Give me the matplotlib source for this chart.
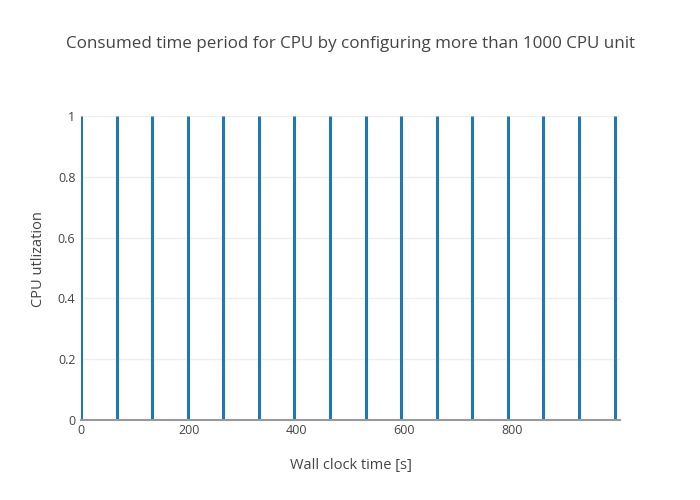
import matplotlib
matplotlib.use("Agg")
import matplotlib.pyplot as plt

# Data
spike_times = [0, 66, 132, 198, 264, 330, 396, 462, 528, 594, 660, 726, 792, 858, 924, 990]
cpu_util = [1] * len(spike_times)
x_ticks = [0, 200, 400, 600, 800]
y_ticks = [0, 0.2, 0.4, 0.6, 0.8, 1]
y_tick_labels = ["0", "0.2", "0.4", "0.6", "0.8", "1"]

plt.rcParams['font.family'] = ['Open Sans', 'DejaVu Sans']

fig = plt.figure(figsize=(7, 5), dpi=100)
ax = fig.add_axes([81/700, 80/500, (620-81)/700, (420-116)/500])

ax.vlines(spike_times, 0, cpu_util, color='#1f77b4', linewidth=2.2, zorder=3)

ax.set_xlim(0, 1000)
ax.set_ylim(0, 1)
ax.set_xticks(x_ticks)
ax.set_yticks(y_ticks)
ax.set_yticklabels(y_tick_labels)
ax.tick_params(axis='both', length=0, labelsize=9, colors='#444444', pad=4)
ax.tick_params(axis='x', pad=3)
ax.grid(axis='y', color='#eeeeee', linewidth=1, zorder=0)
for s in ['top', 'right', 'left']:
    ax.spines[s].set_visible(False)
ax.spines['bottom'].set_color('#999999')
ax.spines['bottom'].set_linewidth(1.5)
ax.spines['bottom'].set_zorder(4)

ax.set_xlabel('Wall clock time [s]', fontsize=10.5, color='#444444', labelpad=15)
ax.set_ylabel('CPU utlization', fontsize=10.5, color='#444444', labelpad=4)
ax.yaxis.set_label_coords(-(81-46)/539, (420-259)/304)

fig.text(350/700, 1 - 44/500, 'Consumed time period for CPU by configuring more than 1000 CPU unit',
         ha='center', va='center', fontsize=12.25, color='#444444')

fig.savefig('out.png', dpi=100, facecolor='white')
